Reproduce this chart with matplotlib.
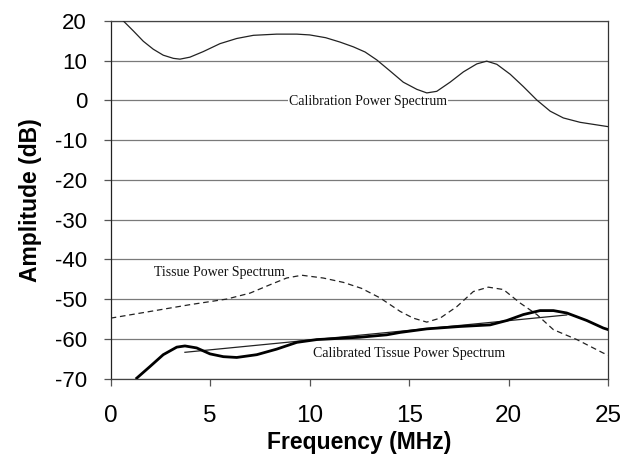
import matplotlib
matplotlib.use("Agg")
import matplotlib.pyplot as plt

plt.rcParams["axes.unicode_minus"] = False

# Calibration power spectrum (thin solid)
cal_x = [0.6, 1.14, 1.64, 2.14, 2.64, 3.15, 3.48, 3.98, 4.65, 5.49, 6.33, 7.17,
         8.34, 9.35, 10.0, 10.8, 11.52, 12.19, 12.78, 13.37, 14.04, 14.7, 15.38,
         15.88, 16.38, 17.05, 17.72, 18.39, 18.89, 19.4, 20.07, 20.73, 21.41,
         22.08, 22.74, 23.58, 25.0]
cal_y = [20.2, 17.5, 14.9, 12.9, 11.4, 10.6, 10.4, 10.9, 12.3, 14.3, 15.6, 16.4,
         16.7, 16.7, 16.5, 15.8, 14.7, 13.5, 12.2, 10.2, 7.4, 4.6, 2.8,
         1.9, 2.3, 4.6, 7.2, 9.2, 9.9, 9.1, 6.6, 3.5, 0.1,
         -2.7, -4.4, -5.5, -6.6]

# Tissue power spectrum (dashed)
tis_x = [0.0, 2.0, 3.99, 5.83, 7.0, 8.0, 8.84, 9.6, 10.68, 11.69, 12.6,
         13.53, 14.54, 15.2, 15.88, 16.55, 17.39, 18.22, 18.97, 19.73, 20.57,
         21.41, 22.24, 23.42, 24.75, 25.0]
tis_y = [-54.8, -53.1, -51.4, -50.0, -48.5, -46.4, -44.7, -44.0, -44.7, -45.8, -47.3,
         -49.7, -53.1, -54.8, -55.8, -54.8, -51.9, -48.1, -47.0, -47.6, -51.0,
         -53.9, -57.7, -60.2, -63.6, -64.1]

# Calibrated tissue power spectrum (thick solid)
ct_x = [1.31, 1.97, 2.64, 3.32, 3.73, 4.32, 4.99, 5.66, 6.33, 7.34, 8.34, 9.35,
        10.35, 12.53, 13.87, 14.54, 15.88, 17.55, 19.06, 19.9, 20.73, 21.57,
        22.24, 22.91, 23.92, 24.75, 25.0]
ct_y = [-69.9, -67.0, -64.0, -62.1, -61.8, -62.3, -63.8, -64.5, -64.7, -64.0, -62.6, -60.9,
        -60.2, -59.6, -59.0, -58.4, -57.5, -56.9, -56.5, -55.4, -53.9, -52.9,
        -52.9, -53.5, -55.4, -57.3, -57.7]

# Linear fit of calibrated spectrum
fit_x = [3.73, 22.91]
fit_y = [-63.4, -54.0]

x_ticks = [0, 5, 10, 15, 20, 25]
y_ticks = [-70, -60, -50, -40, -30, -20, -10, 0, 10, 20]

fig = plt.figure(figsize=(6.35, 4.55), dpi=100)
ax = fig.add_axes([0.1743, 0.1681, 0.958 - 0.1743, 0.9538 - 0.1681])

for yv in y_ticks:
    ax.axhline(yv, color="#7a7a7a", lw=0.9, zorder=1)

ax.plot(cal_x, cal_y, color="#222222", lw=0.9, zorder=3, solid_joinstyle="round")
ax.plot(tis_x, tis_y, color="#222222", lw=0.9, linestyle=(0, (4.5, 3)), zorder=3)
ax.plot(ct_x, ct_y, color="black", lw=2.0, zorder=4, solid_joinstyle="round")
ax.plot(fit_x, fit_y, color="#222222", lw=0.9, zorder=3)

ax.set_xlim(0, 25)
ax.set_ylim(-70, 20)
ax.set_xticks(x_ticks)
ax.set_yticks(y_ticks)

serif = ["Liberation Serif", "DejaVu Serif"]
ax.text(12.93, -0.25, "Calibration Power Spectrum", fontsize=10, family=serif,
        ha="center", va="center", color="#111111", zorder=5,
        bbox=dict(facecolor="white", edgecolor="none", pad=1.0))
ax.text(5.48, -43.4, "Tissue Power Spectrum", fontsize=10, family=serif,
        ha="center", va="center", color="#111111", zorder=5)
ax.text(15.0, -63.6, "Calibrated Tissue Power Spectrum", fontsize=10, family=serif,
        ha="center", va="center", color="#111111", zorder=5)

sans = ["Liberation Sans", "DejaVu Sans"]
for lbl in ax.get_xticklabels():
    lbl.set_family(sans)
    lbl.set_fontsize(17.5)
for lbl in ax.get_yticklabels():
    lbl.set_family(sans)
    lbl.set_fontsize(16)
ax.tick_params(axis="y", length=5, width=0.9, pad=12, color="#555555")
ax.tick_params(axis="x", length=5, width=0.9, pad=14, color="#555555")

ax.set_xlabel("Frequency (MHz)", fontsize=16.5, fontweight="bold", family=sans, labelpad=3)
ax.set_ylabel("Amplitude (dB)", fontsize=16.5, fontweight="bold", family=sans, labelpad=9)

ax.spines["left"].set_color("#222222")
ax.spines["right"].set_color("#333333")
ax.spines["top"].set_color("#444444")
ax.spines["bottom"].set_color("#444444")
for s in ax.spines.values():
    s.set_linewidth(0.9)

fig.savefig("out.png", dpi=100)
